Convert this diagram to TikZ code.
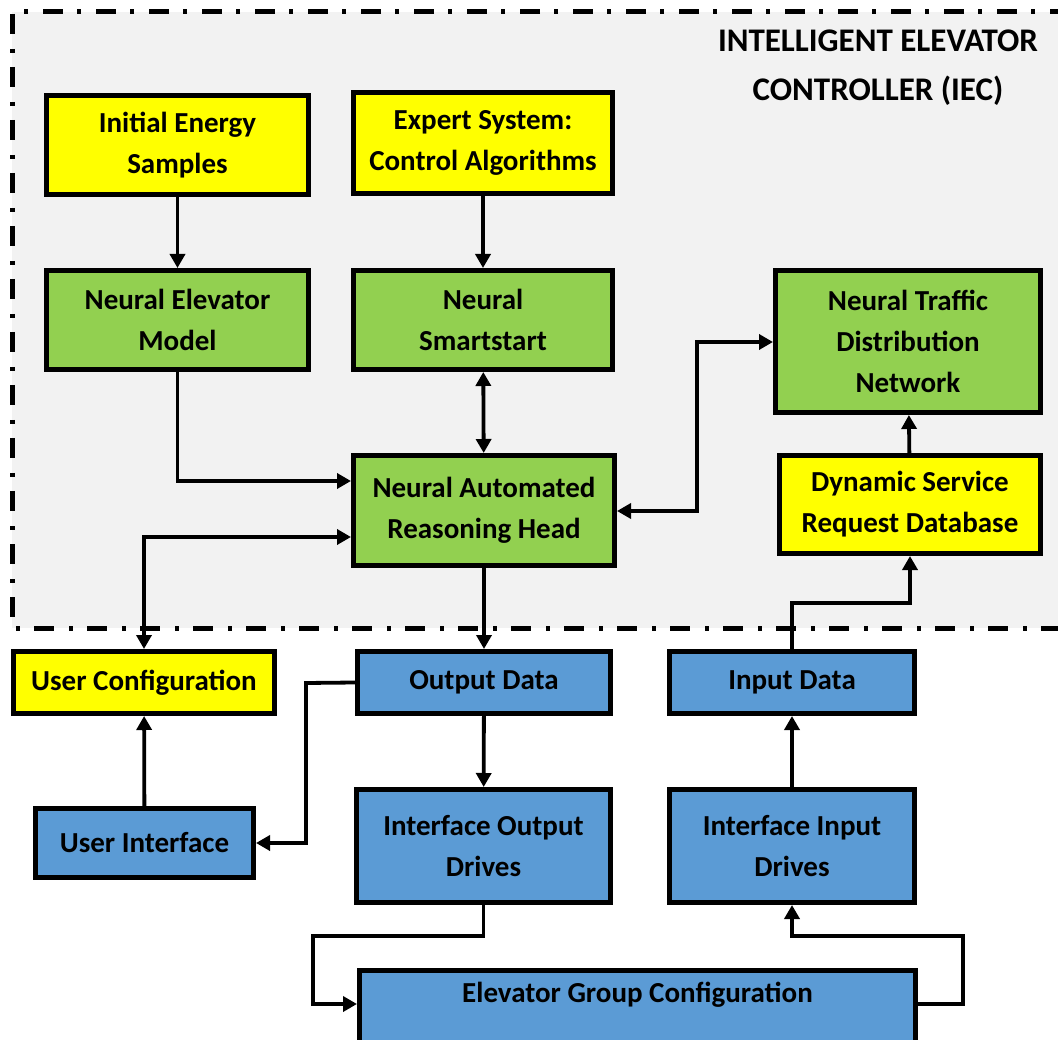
\documentclass[tikz,border=0pt]{standalone}
\usepackage{fontspec}
\setmainfont{Carlito}
\usetikzlibrary{arrows.meta}
\definecolor{boxyellow}{HTML}{FFFF00}
\definecolor{boxgreen}{HTML}{92D050}
\definecolor{boxblue}{HTML}{5B9BD5}
\definecolor{panelgray}{HTML}{F2F2F2}
\begin{document}
\begin{tikzpicture}[x=1pt,y=-1pt,
  boxfont/.style={font=\fontsize{29}{41}\selectfont\bfseries},
  box/.style={draw=black, line width=5pt, align=center, inner sep=0pt, boxfont},
  ybox/.style={box, fill=boxyellow},
  gbox/.style={box, fill=boxgreen},
  bbox/.style={box, fill=boxblue},
  tip/.tip={Triangle[length=14pt,width=15pt]},
  link/.style={line width=3.8pt, -tip},
  duallink/.style={line width=3.8pt, tip-tip},
  title/.style={align=center, font=\fontsize{33}{49}\selectfont\bfseries}
]
\useasboundingbox (0,0) rectangle (1058,1040);
\clip (0,0) rectangle (1058,1040);

% controller panel
\fill[panelgray] (12,12) rectangle (1070,628);
\draw[line width=5pt, dash pattern=on 20pt off 15pt on 4pt off 14pt]
  (1070,12) -- (12,12) -- (12,628) -- (1070,628);
\node[title] (iec) at (878,68) {INTELLIGENT ELEVATOR\\CONTROLLER (IEC)};

% controller blocks
\node[ybox, minimum width=262pt, minimum height=99pt] (ies) at (177.5,145) {Initial Energy\\Samples};
\node[ybox, minimum width=259pt, minimum height=101pt] (exp) at (483,143) {Expert System:\\Control Algorithms};
\node[gbox, minimum width=262pt, minimum height=99pt] (nem) at (177.5,320) {Neural Elevator\\Model};
\node[gbox, minimum width=259pt, minimum height=99pt] (nss) at (483,320) {Neural\\Smartstart};
\node[gbox, minimum width=265pt, minimum height=142pt] (ntd) at (908,341.5) {Neural Traffic\\Distribution\\Network};
\node[gbox, minimum width=261pt, minimum height=110pt] (narh) at (484,510.5) {Neural Automated\\Reasoning Head};
\node[ybox, minimum width=261pt, minimum height=98pt] (dsr) at (910,504.5) {Dynamic Service\\Request Database};

% interface blocks
\node[ybox, minimum width=261pt, minimum height=62pt] (uc) at (144,682.5) {User Configuration};
\node[bbox, minimum width=253pt, minimum height=62pt] (od) at (484,682.5) {Output Data};
\node[bbox, minimum width=245pt, minimum height=62pt] (id) at (792,682.5) {Input Data};
\node[bbox, minimum width=218pt, minimum height=69pt] (ui) at (144.5,843) {User Interface};
\node[bbox, minimum width=254pt, minimum height=113pt] (iod) at (483.5,846) {Interface Output\\Drives};
\node[bbox, minimum width=245pt, minimum height=113pt] (iid) at (792,846) {Interface Input\\Drives};
\node[bbox, minimum width=556pt, minimum height=95pt, anchor=north] (egc) at (637.5,967.5) {};
\node[boxfont] (egct) at (637.5,995) {Elevator Group Configuration};

% connectors
\draw[link] (ies) -- (nem);
\draw[link] (exp) -- (nss);
\draw[duallink] (nss) -- (narh);
\draw[link] (nem.south) |- (narh.west |- 0,481);
\draw[duallink] (narh.east |- 0,511) -- (697,511) |- (ntd.west |- 0,342);
\draw[link] (dsr) -- (ntd);
\draw[link] (id.north) |- (910,603) -- (dsr.south);
\draw[duallink] (narh.west |- 0,537) -| (uc.north);
\draw[link] (narh) -- (od);
\draw[link] (od) -- (iod);
\draw[link] (od.west) -- (306,683) |- (ui.east);
\draw[link] (ui) -- (uc);
\draw[link] (iid) -- (id);
\draw[link] (iod.south) |- (313,936) |- (egc.west |- 0,1004);
\draw[link] (egc.east |- 0,1004) -- (963,1004) |- (792,936) -- (iid.south);
\end{tikzpicture}
\end{document}
